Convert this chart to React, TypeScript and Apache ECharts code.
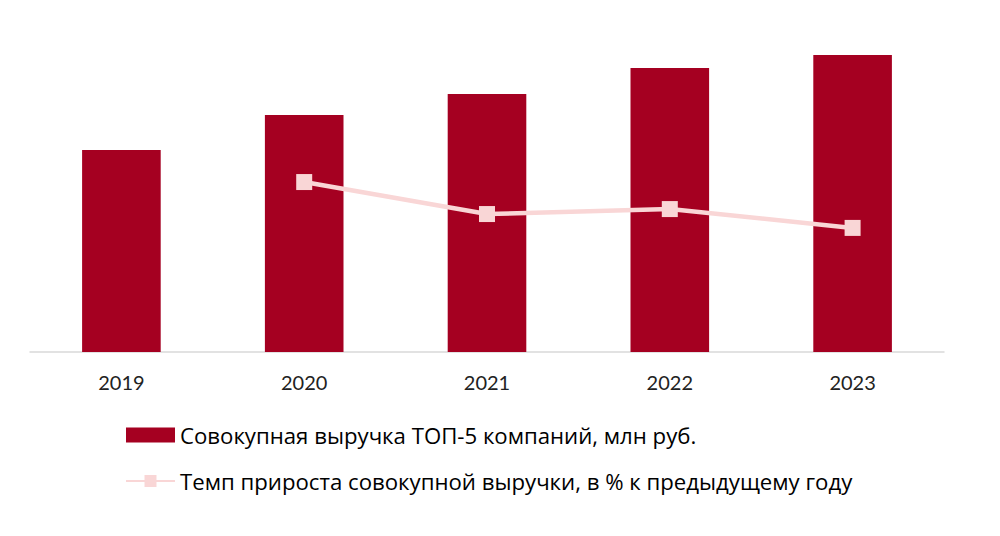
import React, { useEffect, useRef } from "react";
import * as echarts from "echarts";

const years = ["2019", "2020", "2021", "2022", "2023"];
const revenue = [101000, 118500, 129000, 142000, 148500];
const growth: (number | null)[] = [null, 17.8, 8.8, 10.2, 4.9];
const revenueName = "Совокупная выручка ТОП-5 компаний, млн руб.";
const growthName = "Темп прироста совокупной выручки, в % к предыдущему году";

export default function App() {
  const ref = useRef<HTMLDivElement>(null);
  useEffect(() => {
    if (!ref.current) return;
    const chart = echarts.init(ref.current, undefined, { renderer: "svg" });
    chart.setOption({
      animation: false,
      backgroundColor: "#ffffff",
      textStyle: { fontFamily: "Open Sans" },
      grid: { left: 22, right: 48, top: 24, height: 320 },
      legend: {
        orient: "vertical",
        left: 112,
        top: 411,
        itemGap: 24,
        itemWidth: 49,
        itemHeight: 15,
        textStyle: { fontSize: 22.2, color: "#000000", fontFamily: "Open Sans", padding: [0, 0, 0, 0] },
        data: [
          { name: revenueName, icon: "rect" },
          { name: growthName },
        ],
      },
      xAxis: {
        type: "category",
        data: years,
        axisLine: { lineStyle: { color: "#D9D9D9", width: 1.5 } },
        axisTick: { show: false },
        axisLabel: { fontSize: 20, color: "#222222", margin: 20, fontFamily: "Lato" },
      },
      yAxis: [
        { type: "value", min: 0, max: 160000, show: false, splitLine: { show: false } },
        { type: "value", min: -30, max: 60, show: false, splitLine: { show: false } },
      ],
      series: [
        {
          name: revenueName,
          type: "bar",
          data: revenue,
          barWidth: "43%",
          itemStyle: { color: "#A50021" },
        },
        {
          name: growthName,
          type: "line",
          yAxisIndex: 1,
          data: growth,
          symbol: "rect",
          symbolSize: 16,
          lineStyle: { color: "#F9D6D6", width: 4.5 },
          itemStyle: { color: "#F9D6D6" },
        },
      ],
    });
    return () => chart.dispose();
  }, []);
  return <div ref={ref} style={{ width: 984, height: 520 }} />;
}
